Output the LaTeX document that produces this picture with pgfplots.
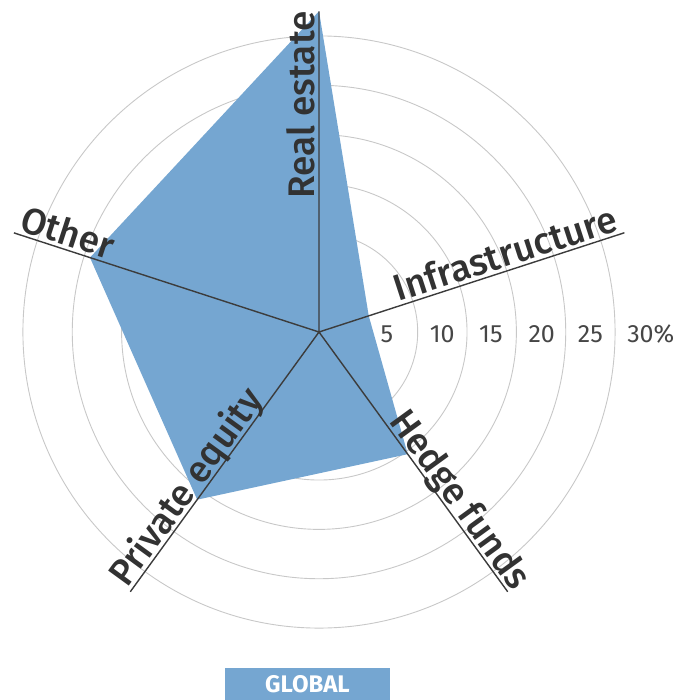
\documentclass[border=0pt]{standalone}
\usepackage{pgfplots}
\pgfplotsset{compat=1.18}
\usepgfplotslibrary{polar}
\usepackage{fontspec}
\setmainfont{Fira Sans}
\newfontfamily\labelfont{Fira Sans Medium}
\definecolor{fillblue}{RGB}{117,166,209}
\definecolor{spoke}{RGB}{60,60,60}
\definecolor{gridgray}{RGB}{200,200,200}
\definecolor{txt}{RGB}{50,50,50}
\definecolor{ticktxt}{RGB}{70,70,70}
\begin{document}
\begin{tikzpicture}
\useasboundingbox (-319bp,-368bp) rectangle (360bp,332bp);
\begin{polaraxis}[
  at={(0,0)}, anchor=center,
  scale only axis, width=641.5bp, height=641.5bp,
  ymin=0, ymax=32.5,
  xmin=0, xmax=360,
  axis line style={draw=none},
  xtick=\empty,
  ytick={5,10,15,20,25,30},
  yticklabels={},
  ymajorgrids,
  major grid style={draw=gridgray, line width=0.9bp},
  major tick length=0pt,
  clip=false,
]
% allocation (%) by asset class: angle, value
\addplot[fill=fillblue, draw=none] coordinates {
  (90,32.5) (18,5.3) (306,15.3) (234,21.0) (162,24.4) (90,32.5)
} -- cycle;
% spokes
\addplot[spoke, line width=1.4bp, line join=round] coordinates {
  (90,32.5) (90,0) (18,32.5) (18,0) (306,32.5) (306,0) (234,32.5) (234,0) (162,32.5)
};
% category labels
\begin{scope}[every node/.style={text=txt, inner sep=0pt, font=\labelfont\fontsize{37bp}{40bp}\selectfont}]
\node[rotate=90, anchor=base east, yshift=4bp] at (axis cs:90,32.5) {Real estate};
\node[rotate=18, anchor=base east, yshift=4bp, xshift=-3bp] at (axis cs:18,32.5) {Infrastructure};
\node[rotate=-54, anchor=base east, yshift=4bp, xshift=4bp] at (axis cs:306,32.5) {Hedge funds};
\node[rotate=54, anchor=base west, yshift=4bp] at (axis cs:234,32.5) {Private equity};
\node[rotate=-18, anchor=base west, yshift=4bp, xshift=3bp] at (axis cs:162,32.5) {Other};
\end{scope}
% radial scale labels
\begin{scope}[every node/.style={text=ticktxt, inner sep=0pt, anchor=west, xshift=12bp, yshift=-2bp, font=\fontsize{25bp}{27bp}\selectfont}]
\node at (axis cs:0,5) {5};
\node at (axis cs:0,10) {10};
\node at (axis cs:0,15) {15};
\node at (axis cs:0,20) {20};
\node at (axis cs:0,25) {25};
\node at (axis cs:0,30) {30\%};
\end{scope}
\end{polaraxis}
\node[fill=fillblue, minimum width=165bp, minimum height=32bp, inner sep=0pt, text=white,
  font=\bfseries\fontsize{24bp}{24bp}\selectfont] at (-11.5bp,-352bp) {GLOBAL};
\end{tikzpicture}
\end{document}
